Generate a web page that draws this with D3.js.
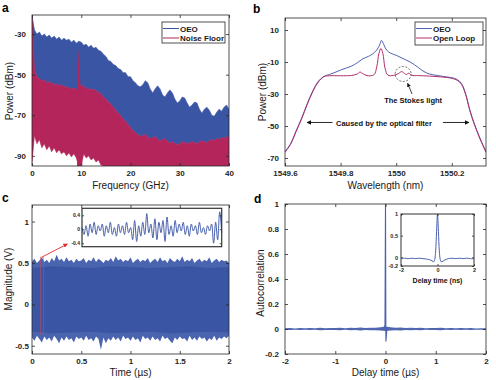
<!DOCTYPE html>
<html>
<head>
<meta charset="utf-8">
<script src="https://cdn.jsdelivr.net/npm/d3@7"></script>
<style>
  body { margin: 0; background: #fff; }
  svg { display: block; font-family: "Liberation Sans", Arial, sans-serif; }
</style>
</head>
<body>
<svg id="chart" width="496" height="380"></svg>
<script>

// ---- panel a : RF spectrum, sampled every 0.5 GHz ----
var freqStep = 0.5;
var oeoTop = [-21, -28, -30, -29, -31, -30, -31.5, -30.5, -32, -31,
    -32.5, -31.5, -33, -32, -33, -32.5, -34, -33, -34.5, -33.5,
    -34, -35.5, -35, -36.5, -35.5, -37, -36.5, -38, -38.5, -40,
    -41, -43, -43.5, -45, -45.5, -47, -47.5, -49, -49, -51,
    -51, -53, -54, -55.5, -56, -55, -53, -54, -57, -59,
    -57, -55.5, -57, -60, -61, -59, -57.5, -59, -62, -64,
    -63, -61, -61.5, -64, -66, -65, -63.5, -64, -67, -69,
    -67, -66, -67.5, -70, -70.5, -68.5, -67, -68, -66, -65, -67];
var floorTop = [-22, -47, -51, -52, -53, -52.5, -54, -53.5, -54, -55,
    -54.5, -55.5, -55, -56, -56, -56.5, -57, -56.5, -57.5, -56,
    -55, -56, -56.5, -57, -57.5, -57, -58, -58.5, -59.5, -61,
    -62, -63.5, -64.5, -66, -67.5, -69, -70, -72, -73, -74.5,
    -76, -77.5, -78.5, -79.5, -80.5, -80, -79.5, -81, -81.5, -81,
    -80.5, -82, -82.5, -82, -81.5, -83, -83.5, -83, -84, -84.5,
    -84, -83, -83.5, -84, -83.5, -83, -83.5, -84, -83, -82.5,
    -83, -83.5, -82.5, -82, -82.5, -81.5, -82, -81, -81.5, -80.5, -81];
// lower edge of the noise floor up to 14.5 GHz, beyond it fills to the axis
var floorLow = [-93, -80, -84, -82, -86, -84, -87, -85, -88, -86,
    -88.5, -87, -89, -88, -90, -88.5, -90.5, -89, -91, -95,
    -95, -89, -91, -90, -92, -91, -93, -92, -94.5, -95];
var spikeFreq = [9.15, 9.35, 9.5, 9.65, 9.85];
var spikePow = [-57, -45, -37, -45, -57];

// ---- panel b : optical spectrum ----
var oeoWl = [1549.6, 1549.62, 1549.64, 1549.66, 1549.68, 1549.70, 1549.72, 1549.74, 1549.76, 1549.78,
    1549.80, 1549.82, 1549.84, 1549.86, 1549.88, 1549.90, 1549.915, 1549.93, 1549.94, 1549.947,
    1549.955, 1549.965, 1549.98, 1550.0, 1550.02, 1550.05, 1550.08, 1550.1, 1550.12, 1550.15,
    1550.18, 1550.2, 1550.22, 1550.235, 1550.25, 1550.265, 1550.28, 1550.3, 1550.323];
var oeoPow = [-66, -61, -53, -45, -36, -28, -22, -19, -17.8, -16.5,
    -15, -13.8, -12.5, -10.5, -8, -6.5, -5, -2.5, 0.5, 3.5,
    1, -2.5, -4.5, -5.8, -7.5, -10, -13.5, -16, -17.5, -18.5,
    -19.3, -19.8, -21, -23.5, -30, -40, -48, -57, -66];
var openWl = [1549.6, 1549.62, 1549.64, 1549.66, 1549.68, 1549.70, 1549.72, 1549.74, 1549.76, 1549.8,
    1549.84, 1549.86, 1549.87, 1549.88, 1549.895, 1549.92, 1549.93, 1549.938, 1549.945, 1549.952,
    1549.96, 1549.97, 1549.99, 1550.008, 1550.02, 1550.03, 1550.037, 1550.045, 1550.055, 1550.08,
    1550.12, 1550.16, 1550.2, 1550.22, 1550.235, 1550.25, 1550.265, 1550.28, 1550.3, 1550.323];
var openPow = [-66.5, -61.5, -53.5, -45.5, -36.5, -28.5, -22.5, -19.2, -18.6, -18.6,
    -18.4, -17.5, -16.3, -17.3, -18.5, -18, -13, -4.6, -1.5, -4.6,
    -14, -18.2, -18.4, -17.2, -16, -17.2, -17.8, -17, -18.3, -18.5,
    -18.8, -19.3, -20.2, -21.5, -24, -30.5, -40.5, -48.5, -57.5, -66.5];

// ---- panel c : time trace, envelope every 0.025 us ----
var timeStep = 0.025;
var traceTop = [0.52, 0.55, 0.5, 0.53, 0.57, 0.51, 0.54, 0.5, 0.56, 0.52,
    0.6, 0.53, 0.55, 0.51, 0.57, 0.52, 0.54, 0.5, 0.55, 0.52,
    0.53, 0.56, 0.5, 0.54, 0.52, 0.57, 0.51, 0.55, 0.53, 0.5,
    0.54, 0.52, 0.56, 0.51, 0.58, 0.53, 0.55, 0.51, 0.54, 0.52,
    0.57, 0.5, 0.53, 0.55, 0.51, 0.54, 0.52, 0.56, 0.5, 0.53,
    0.55, 0.51, 0.57, 0.52, 0.54, 0.5, 0.56, 0.53, 0.51, 0.55,
    0.52, 0.58, 0.51, 0.54, 0.52, 0.56, 0.5, 0.53, 0.55, 0.51,
    0.54, 0.52, 0.57, 0.5, 0.53, 0.55, 0.51, 0.54, 0.52, 0.53, 0.5];
var traceBot = [-0.4, -0.44, -0.38, -0.42, -0.46, -0.39, -0.43, -0.4, -0.45, -0.38,
    -0.42, -0.47, -0.4, -0.44, -0.39, -0.43, -0.41, -0.46, -0.39, -0.42,
    -0.4, -0.44, -0.38, -0.43, -0.41, -0.45, -0.39, -0.42, -0.55, -0.4,
    -0.47, -0.41, -0.44, -0.39, -0.43, -0.4, -0.45, -0.38, -0.42, -0.4,
    -0.44, -0.39, -0.43, -0.41, -0.46, -0.38, -0.42, -0.4, -0.44, -0.39,
    -0.43, -0.41, -0.45, -0.38, -0.42, -0.4, -0.44, -0.47, -0.4, -0.43,
    -0.39, -0.42, -0.41, -0.45, -0.38, -0.43, -0.4, -0.44, -0.39, -0.42,
    -0.4, -0.45, -0.41, -0.43, -0.38, -0.44, -0.4, -0.42, -0.39, -0.41, -0.38];
var coreStep = 0.2;
var coreTop = [0.44, 0.46, 0.45, 0.44, 0.46, 0.45, 0.44, 0.45, 0.46, 0.44, 0.45];
var coreBot = [-0.33, -0.35, -0.34, -0.33, -0.35, -0.34, -0.33, -0.35, -0.34, -0.33, -0.34];
// zoomed waveform in the inset (one value per extremum)
var zoomWave = [0.05, -0.15, 0.1, -0.2, 0.15, -0.1, 0.2, -0.15, 0.1, -0.05,
    0.15, -0.2, 0.1, -0.1, 0.2, -0.15, 0.05, -0.2, 0.15, -0.1,
    0.1, -0.15, 0.2, -0.1, 0.05, -0.3, 0.25, -0.35, 0.1, -0.2,
    0.2, -0.15, 0.45, -0.1, 0.15, -0.25, 0.3, -0.3, 0.2, -0.1,
    0.25, -0.35, 0.35, -0.15, 0.1, -0.2, 0.25, -0.1, 0.15, -0.05,
    0.2, -0.15, 0.1, -0.2, 0.15, -0.05, 0.1, -0.15, 0.2, -0.1,
    0.05, -0.15, 0.1, -0.05, 0.15, -0.4, 0.2, -0.3, 0.5, -0.1];

// ---- panel d : autocorrelation ----
var acfStep = 0.1;
var acfUp = [0.006, 0.008, 0.005, 0.009, 0.006, 0.008, 0.007, 0.01, 0.006, 0.009,
    0.008, 0.011, 0.007, 0.01, 0.009, 0.012, 0.008, 0.011, 0.01, 0.014,
    0.02, 0.014, 0.01, 0.012, 0.009, 0.011, 0.008, 0.01, 0.007, 0.009,
    0.008, 0.01, 0.006, 0.009, 0.007, 0.008, 0.006, 0.008, 0.005, 0.007, 0.006];
var acfDn = [-0.005, -0.007, -0.006, -0.008, -0.005, -0.008, -0.006, -0.009, -0.007, -0.008,
    -0.007, -0.01, -0.006, -0.009, -0.008, -0.011, -0.007, -0.01, -0.009, -0.012,
    -0.016, -0.012, -0.009, -0.011, -0.008, -0.01, -0.007, -0.009, -0.006, -0.008,
    -0.007, -0.009, -0.006, -0.008, -0.006, -0.007, -0.005, -0.007, -0.005, -0.006, -0.005];
var peakLag = [-0.03, -0.01, 0, 0.008, 0.03];
var peakVal = [0.01, 0.03, 1, -0.1, 0.01];
var insetLag = [-2, -1.8, -1.6, -1.4, -1.2, -1, -0.8, -0.6, -0.4, -0.3, -0.2, -0.15, -0.1, -0.05, 0,
    0.05, 0.1, 0.15, 0.2, 0.3, 0.4, 0.6, 0.8, 1, 1.2, 1.4, 1.6, 1.8, 2];
var insetVal = [-0.03, -0.02, -0.03, -0.02, -0.03, -0.02, -0.03, -0.04, -0.06, -0.08, -0.1, -0.05, 0.15, 0.6, 1,
    0.6, 0.15, -0.05, -0.1, -0.09, -0.06, -0.03, -0.02, -0.03, -0.02, -0.03, -0.02, -0.03, -0.03];

var BLUE = "#3b55a5", RED = "#b3255b", INK = "#262626";
var svg = d3.select("#chart");
var defs = svg.append("defs");

function marker(id, color, size) {
    defs.append("marker").attr("id", id)
        .attr("viewBox", "0 0 10 10").attr("refX", 9).attr("refY", 5)
        .attr("markerWidth", size).attr("markerHeight", size)
        .attr("orient", "auto")
        .append("path").attr("d", "M0,0L10,5L0,10z").attr("fill", color);
}
marker("arrK", "#111", 5);
marker("arrR", "#e02a2a", 5);

function clip(id, x, y) {
    defs.append("clipPath").attr("id", id).append("rect")
        .attr("x", x.range()[0]).attr("y", y.range()[1])
        .attr("width", x.range()[1] - x.range()[0])
        .attr("height", y.range()[0] - y.range()[1]);
    return "url(#" + id + ")";
}

// MATLAB-like box: inward ticks on all four sides
function frame(x, y, xt, yt, o) {
    o = o || {};
    var fs = o.fs || 8, tl = o.tl || 3;
    var g = svg.append("g");
    var parts = [
        [d3.axisBottom(x).tickValues(xt).tickFormat(o.noX ? "" : String), 0, y.range()[0], o.padX || 4.5],
        [d3.axisTop(x).tickValues(xt).tickFormat(""), 0, y.range()[1], 0],
        [d3.axisLeft(y).tickValues(yt).tickFormat(String), x.range()[0], 0, o.padY || 6],
        [d3.axisRight(y).tickValues(yt).tickFormat(""), x.range()[1], 0, 0]
    ];
    parts.forEach(function (p) {
        var a = g.append("g").attr("transform", "translate(" + p[1] + "," + p[2] + ")")
            .call(p[0].tickSizeInner(-tl).tickSizeOuter(0).tickPadding(p[3]));
        a.select(".domain").remove();
        a.selectAll("line").attr("stroke", INK).attr("stroke-width", 0.8);
        a.selectAll("text").attr("font-family", "Liberation Sans, Arial, sans-serif")
            .attr("font-size", fs).attr("font-weight", "bold").attr("fill", INK);
    });
    g.append("rect")
        .attr("x", x.range()[0]).attr("y", y.range()[1])
        .attr("width", x.range()[1] - x.range()[0])
        .attr("height", y.range()[0] - y.range()[1])
        .attr("fill", "none").attr("stroke", o.stroke || INK).attr("stroke-width", o.sw || 0.8);
    return g;
}

function label(txt, x, y, size, opts) {
    opts = opts || {};
    var t = svg.append("text").attr("x", x).attr("y", y).text(txt)
        .attr("font-size", size).attr("fill", opts.fill || "#1a1a1a")
        .attr("font-weight", opts.bold ? "bold" : "normal")
        .attr("text-anchor", opts.anchor || "middle");
    if (opts.rotate) t.attr("transform", "rotate(-90," + x + "," + y + ")");
    return t;
}

function legend(x0, y0, w, h, items) {
    svg.append("rect").attr("x", x0).attr("y", y0).attr("width", w).attr("height", h)
        .attr("fill", "#fff").attr("stroke", INK).attr("stroke-width", 0.8);
    items.forEach(function (it, i) {
        var yy = y0 + 6.5 + i * 9.5;
        svg.append("line").attr("x1", x0 + 1).attr("x2", x0 + 17).attr("y1", yy).attr("y2", yy)
            .attr("stroke", it.color).attr("stroke-width", 1);
        label(it.name, x0 + 18, yy + 3, 8, {bold: true, anchor: "start"});
    });
}

// ================= panel a =================
var xa = d3.scaleLinear().domain([0, 40]).range([32, 229]);
var ya = d3.scaleLinear().domain([-95, -20.6]).range([166, 15]);
var ga = svg.append("g").attr("clip-path", clip("ca", xa, ya));
ga.append("path").datum(oeoTop)
    .attr("d", d3.area()
        .x(function (d, i) { return xa(i * freqStep); })
        .y0(function (d, i) { return ya(floorTop[i]); })
        .y1(function (d) { return ya(d); }))
    .attr("fill", BLUE).attr("stroke", BLUE).attr("stroke-width", 0.6);
ga.append("path").datum(floorTop)
    .attr("d", d3.area()
        .x(function (d, i) { return xa(i * freqStep); })
        .y0(function (d, i) { return ya(i < floorLow.length ? floorLow[i] : -95); })
        .y1(function (d) { return ya(d); }))
    .attr("fill", RED).attr("stroke", RED).attr("stroke-width", 0.6);
ga.append("path").datum(spikePow)
    .attr("d", d3.area()
        .x(function (d, i) { return xa(spikeFreq[i]); })
        .y0(ya(-95)).y1(function (d) { return ya(d); }))
    .attr("fill", RED);
frame(xa, ya, [0, 10, 20, 30, 40], [-30, -50, -70, -90], {padY: 6});
legend(162, 22, 63, 21, [{name: "OEO", color: BLUE}, {name: "Noise Floor", color: RED}]);
label("Frequency (GHz)", 130.5, 189, 10);
label("Power (dBm)", 13, 91, 10, {rotate: true});
label("a", 2, 12, 12, {bold: true, anchor: "start", fill: "#000"});

// ================= panel b =================
var xb = d3.scaleLinear().domain([1549.6, 1550.323]).range([285, 486]);
var yb = d3.scaleLinear().domain([-75, 17.5]).range([166, 18]);
var gb = svg.append("g").attr("clip-path", clip("cb", xb, yb));
var lineB = function (wl) {
    return d3.line().curve(d3.curveCatmullRom.alpha(0.5))
        .x(function (d, i) { return xb(wl[i]); })
        .y(function (d) { return yb(d); });
};
gb.append("path").datum(oeoPow).attr("d", lineB(oeoWl))
    .attr("fill", "none").attr("stroke", "#4d62b2").attr("stroke-width", 1);
gb.append("path").datum(openPow).attr("d", lineB(openWl))
    .attr("fill", "none").attr("stroke", "#b2306a").attr("stroke-width", 1);
frame(xb, yb, [1549.6, 1549.8, 1550, 1550.2], [10, -10, -30, -50, -70], {padY: 6, padX: 4});
legend(415, 22, 68, 23, [{name: "OEO", color: "#4d62b2"}, {name: "Open Loop", color: "#b2306a"}]);
// annotations
svg.append("ellipse").attr("cx", xb(1550.025)).attr("cy", yb(-17.5)).attr("rx", 8).attr("ry", 7.5)
    .attr("fill", "none").attr("stroke", "#333").attr("stroke-width", 0.7).attr("stroke-dasharray", "2,1.5");
svg.append("line").attr("x1", xb(1550.057)).attr("y1", yb(-30)).attr("x2", xb(1550.041)).attr("y2", yb(-23.3))
    .attr("stroke", "#111").attr("stroke-width", 0.8).attr("marker-end", "url(#arrK)");
label("The Stokes light", xb(1550.061), yb(-35.6), 7.5, {bold: true, fill: "#111"});
label("Caused by the optical filter", xb(1549.956), yb(-50), 7.5, {bold: true, fill: "#111"});
svg.append("line").attr("x1", xb(1549.771)).attr("x2", xb(1549.679)).attr("y1", yb(-47.8)).attr("y2", yb(-47.8))
    .attr("stroke", "#111").attr("stroke-width", 0.9).attr("marker-end", "url(#arrK)");
svg.append("line").attr("x1", xb(1550.168)).attr("x2", xb(1550.262)).attr("y1", yb(-47.8)).attr("y2", yb(-47.8))
    .attr("stroke", "#111").attr("stroke-width", 0.9).attr("marker-end", "url(#arrK)");
label("Wavelength (nm)", 385.5, 189, 10);
label("Power (dBm)", 266, 92, 10, {rotate: true});
label("b", 253, 13, 12, {bold: true, anchor: "start", fill: "#000"});

// ================= panel c =================
var xc = d3.scaleLinear().domain([0, 2]).range([32, 229]);
var yc = d3.scaleLinear().domain([-0.6, 1.2]).range([354, 205]);
var gc = svg.append("g").attr("clip-path", clip("cc", xc, yc));
gc.append("path").datum(traceTop)
    .attr("d", d3.area()
        .x(function (d, i) { return xc(i * timeStep); })
        .y0(function (d, i) { return yc(traceBot[i]); })
        .y1(function (d) { return yc(d); }))
    .attr("fill", "#4b64b0");
gc.append("path").datum(coreTop)
    .attr("d", d3.area()
        .x(function (d, i) { return xc(i * coreStep); })
        .y0(function (d, i) { return yc(coreBot[i]); })
        .y1(function (d) { return yc(d); }))
    .attr("fill", BLUE);
// selected window and arrow to the zoom
svg.append("rect").attr("x", xc(0.085)).attr("y", yc(0.57))
    .attr("width", xc(0.115) - xc(0.085)).attr("height", yc(-0.35) - yc(0.57))
    .attr("fill", "none").attr("stroke", "#e04848").attr("stroke-width", 0.6).attr("opacity", 0.8);
svg.append("line").attr("x1", xc(0.1)).attr("y1", yc(0.57)).attr("x2", xc(0.36)).attr("y2", yc(0.73))
    .attr("stroke", "#e02a2a").attr("stroke-width", 0.9).attr("marker-end", "url(#arrR)");
frame(xc, yc, [0, 0.5, 1, 1.5, 2], [-0.5, 0, 0.5, 1], {padY: 3});
// inset
var xci = d3.scaleLinear().domain([0, 1]).range([82, 221.7]);
var yci = d3.scaleLinear().domain([-0.5, 0.6]).range([246.7, 208.3]);
svg.append("rect").attr("x", 82).attr("y", 208.3).attr("width", 139.7).attr("height", 38.4).attr("fill", "#fff");
svg.append("path").datum(zoomWave)
    .attr("d", d3.line().curve(d3.curveCatmullRom)
        .x(function (d, i) { return xci(i / (zoomWave.length - 1)); })
        .y(function (d) { return yci(d); }))
    .attr("fill", "none").attr("stroke", "#4760ac").attr("stroke-width", 1);
frame(xci, yci, [], [0.4, 0, -0.4], {fs: 5, padY: 2, tl: 2, sw: 1.2, stroke: "#333"});
label("Time (µs)", 130.5, 376, 10);
label("Magnitude (V)", 12, 279, 10, {rotate: true});
label("c", 2, 202, 12, {bold: true, anchor: "start", fill: "#000"});

// ================= panel d =================
var xd = d3.scaleLinear().domain([-2, 2]).range([285, 486]);
var yd = d3.scaleLinear().domain([-0.2, 1]).range([354, 204]);
var gd = svg.append("g").attr("clip-path", clip("cd", xd, yd));
gd.append("path").datum(acfUp)
    .attr("d", d3.area()
        .x(function (d, i) { return xd(-2 + i * acfStep); })
        .y0(function (d, i) { return yd(acfDn[i]); })
        .y1(function (d) { return yd(d); }))
    .attr("fill", "#5067b0");
gd.append("path").datum(peakVal)
    .attr("d", d3.line()
        .x(function (d, i) { return xd(peakLag[i]); })
        .y(function (d) { return yd(d); }))
    .attr("fill", "none").attr("stroke", "#4a61ae").attr("stroke-width", 1.1);
frame(xd, yd, [-2, -1, 0, 1, 2], [-0.2, 0, 0.2, 0.4, 0.6, 0.8, 1], {padY: 6});
// inset
var xdi = d3.scaleLinear().domain([-2, 2]).range([401, 474]);
var ydi = d3.scaleLinear().domain([-0.2, 1]).range([266, 214]);
svg.append("rect").attr("x", 401).attr("y", 214).attr("width", 73).attr("height", 52).attr("fill", "#fff");
svg.append("path").datum(insetVal)
    .attr("d", d3.line().curve(d3.curveCatmullRom.alpha(0.5))
        .x(function (d, i) { return xdi(insetLag[i]); })
        .y(function (d) { return ydi(d); }))
    .attr("fill", "none").attr("stroke", "#4a61ae").attr("stroke-width", 1);
frame(xdi, ydi, [-2, 0, 2], [-0.2, 0, 0.5, 1], {fs: 5.5, padY: 3, padX: 2, tl: 2, sw: 1, stroke: "#333"});
label("Delay time (ns)", 437.5, 283, 7, {bold: true, fill: "#111"});
label("Delay time (µs)", 385.5, 376, 10);
label("Autocorrelation", 264, 283, 10, {rotate: true});
label("d", 254, 203, 12, {bold: true, anchor: "start", fill: "#000"});

</script>
</body>
</html>
